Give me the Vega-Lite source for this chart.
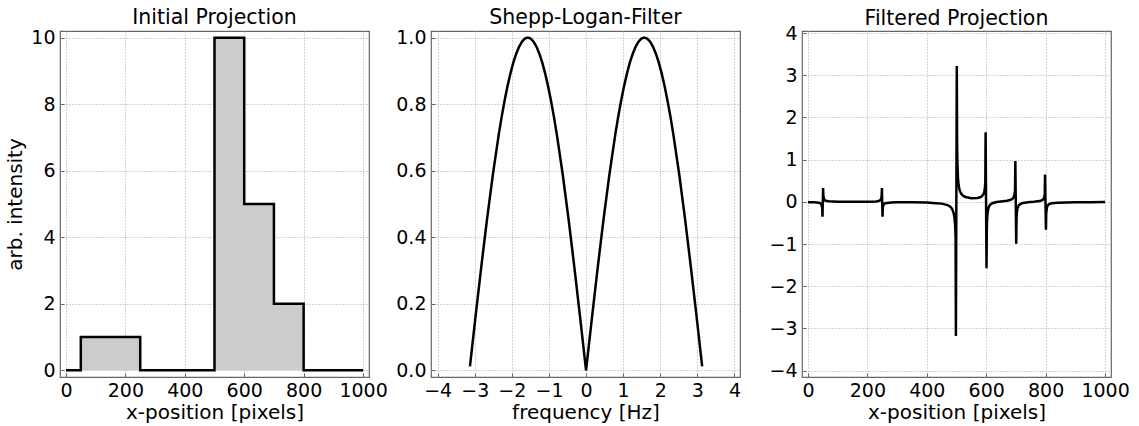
{
  "$schema": "https://vega.github.io/schema/vega-lite/v6.json",
  "padding": {"left": 5, "top": 7, "right": 5, "bottom": 5},
  "background": "white",
  "config": {
    "font": "DejaVu Sans",
    "view": {"stroke": "#666666", "strokeWidth": 1.2},
    "axis": {
      "labelFont": "DejaVu Sans", "labelFontSize": 19, "labelColor": "#000000",
      "titleFont": "DejaVu Sans", "titleFontSize": 20, "titleFontWeight": "normal", "titleColor": "#000000",
      "grid": true, "gridColor": "#a8a8a8", "gridDash": [1, 2], "gridWidth": 1,
      "ticks": true, "tickSize": -4, "tickColor": "#666666", "tickWidth": 1,
      "domain": false, "labelFlush": false, "labelOverlap": false, "labelBound": false,
      "labelPadding": 9
    },
    "axisX": {"labelPadding": 8, "titlePadding": 2},
    "axisY": {"titlePadding": 5},
    "title": {"fontSize": 20.5, "fontWeight": "normal", "font": "DejaVu Sans", "color": "#000000", "anchor": "middle"}
  },
  "datasets": {
    "proj": [
      {"x": 0, "y": 0}, {"x": 50, "y": 1}, {"x": 250, "y": 0}, {"x": 500, "y": 10},
      {"x": 600, "y": 5}, {"x": 700, "y": 2}, {"x": 800, "y": 0}, {"x": 1000, "y": 0}
    ],
    "filter": [
      {"f": -3.13, "h": 0.012}, {"f": -2.985, "h": 0.1564}, {"f": -2.827, "h": 0.309}, {"f": -2.670, "h": 0.454},
      {"f": -2.513, "h": 0.5878}, {"f": -2.356, "h": 0.7071}, {"f": -2.278, "h": 0.7604}, {"f": -2.199, "h": 0.809},
      {"f": -2.121, "h": 0.8526}, {"f": -2.042, "h": 0.891}, {"f": -1.963, "h": 0.9239},
      {"f": -1.885, "h": 0.9511}, {"f": -1.806, "h": 0.9724}, {"f": -1.728, "h": 0.9877}, {"f": -1.649, "h": 0.9969},
      {"f": -1.571, "h": 1.0}, {"f": -1.492, "h": 0.9969}, {"f": -1.414, "h": 0.9877}, {"f": -1.335, "h": 0.9724},
      {"f": -1.257, "h": 0.9511}, {"f": -1.178, "h": 0.9239}, {"f": -1.100, "h": 0.891}, {"f": -1.021, "h": 0.8526},
      {"f": -0.942, "h": 0.809}, {"f": -0.864, "h": 0.7604}, {"f": -0.785, "h": 0.7071},
      {"f": -0.628, "h": 0.5878}, {"f": -0.471, "h": 0.454}, {"f": -0.314, "h": 0.309}, {"f": -0.157, "h": 0.1564},
      {"f": 0, "h": 0},
      {"f": 0.157, "h": 0.1564}, {"f": 0.314, "h": 0.309}, {"f": 0.471, "h": 0.454}, {"f": 0.628, "h": 0.5878},
      {"f": 0.785, "h": 0.7071}, {"f": 0.864, "h": 0.7604}, {"f": 0.942, "h": 0.809}, {"f": 1.021, "h": 0.8526},
      {"f": 1.100, "h": 0.891}, {"f": 1.178, "h": 0.9239}, {"f": 1.257, "h": 0.9511}, {"f": 1.335, "h": 0.9724},
      {"f": 1.414, "h": 0.9877}, {"f": 1.492, "h": 0.9969}, {"f": 1.571, "h": 1.0}, {"f": 1.649, "h": 0.9969},
      {"f": 1.728, "h": 0.9877}, {"f": 1.806, "h": 0.9724}, {"f": 1.885, "h": 0.9511}, {"f": 1.963, "h": 0.9239},
      {"f": 2.042, "h": 0.891}, {"f": 2.121, "h": 0.8526}, {"f": 2.199, "h": 0.809}, {"f": 2.278, "h": 0.7604},
      {"f": 2.356, "h": 0.7071}, {"f": 2.513, "h": 0.5878},
      {"f": 2.670, "h": 0.454}, {"f": 2.827, "h": 0.309}, {"f": 2.985, "h": 0.1564}, {"f": 3.13, "h": 0.012}
    ],
    "filtered": [
      {"x": 0, "y": -0.006}, {"x": 10, "y": -0.007}, {"x": 20, "y": -0.009}, {"x": 30, "y": -0.014},
      {"x": 40, "y": -0.027}, {"x": 45, "y": -0.054}, {"x": 48, "y": -0.135}, {"x": 49, "y": -0.35},
      {"x": 51, "y": 0.33}, {"x": 52, "y": 0.135}, {"x": 55, "y": 0.054}, {"x": 60, "y": 0.027},
      {"x": 70, "y": 0.013}, {"x": 100, "y": 0.005}, {"x": 150, "y": 0.003}, {"x": 200, "y": 0.004},
      {"x": 230, "y": 0.011}, {"x": 240, "y": 0.025}, {"x": 245, "y": 0.051}, {"x": 248, "y": 0.132},
      {"x": 249, "y": 0.33}, {"x": 251, "y": -0.35}, {"x": 252, "y": -0.138}, {"x": 255, "y": -0.057},
      {"x": 260, "y": -0.03}, {"x": 280, "y": -0.013}, {"x": 300, "y": -0.01}, {"x": 350, "y": -0.011},
      {"x": 400, "y": -0.017}, {"x": 430, "y": -0.03}, {"x": 450, "y": -0.041}, {"x": 470, "y": -0.075},
      {"x": 480, "y": -0.119}, {"x": 485, "y": -0.164}, {"x": 490, "y": -0.251}, {"x": 493, "y": -0.367},
      {"x": 495, "y": -0.52}, {"x": 496, "y": -0.655}, {"x": 497, "y": -0.88}, {"x": 498, "y": -3.18},
      {"x": 501, "y": 3.22}, {"x": 502, "y": 1.37}, {"x": 503, "y": 0.92}, {"x": 505, "y": 0.56},
      {"x": 507, "y": 0.405}, {"x": 510, "y": 0.291}, {"x": 515, "y": 0.202}, {"x": 520, "y": 0.158},
      {"x": 530, "y": 0.116}, {"x": 550, "y": 0.088}, {"x": 570, "y": 0.092}, {"x": 580, "y": 0.11},
      {"x": 585, "y": 0.131}, {"x": 590, "y": 0.175}, {"x": 593, "y": 0.232}, {"x": 595, "y": 0.308},
      {"x": 596, "y": 0.376}, {"x": 597, "y": 0.488}, {"x": 598, "y": 1.65}, {"x": 601, "y": -1.57},
      {"x": 602, "y": -0.638}, {"x": 603, "y": -0.413}, {"x": 605, "y": -0.233}, {"x": 608, "y": -0.132},
      {"x": 612, "y": -0.077}, {"x": 620, "y": -0.032}, {"x": 635, "y": -0.003}, {"x": 650, "y": 0.011},
      {"x": 670, "y": 0.028}, {"x": 680, "y": 0.043}, {"x": 688, "y": 0.071}, {"x": 692, "y": 0.105},
      {"x": 695, "y": 0.167}, {"x": 697, "y": 0.275}, {"x": 698, "y": 0.97}, {"x": 701, "y": -0.99},
      {"x": 702, "y": -0.4}, {"x": 703, "y": -0.264}, {"x": 705, "y": -0.156}, {"x": 710, "y": -0.075},
      {"x": 720, "y": -0.033}, {"x": 740, "y": -0.01}, {"x": 760, "y": 0.002}, {"x": 780, "y": 0.019},
      {"x": 790, "y": 0.047}, {"x": 795, "y": 0.102}, {"x": 797, "y": 0.174}, {"x": 798, "y": 0.65},
      {"x": 801, "y": -0.66}, {"x": 802, "y": -0.276}, {"x": 804, "y": -0.141}, {"x": 807, "y": -0.083},
      {"x": 812, "y": -0.05}, {"x": 820, "y": -0.032}, {"x": 840, "y": -0.018}, {"x": 870, "y": -0.012},
      {"x": 900, "y": -0.009}, {"x": 950, "y": -0.006}, {"x": 1000, "y": -0.004}
    ]
  },
  "spacing": 62,
  "bounds": "flush",
  "hconcat": [
    {
      "title": {"text": "Initial Projection", "offset": 0},
      "width": 309, "height": 346,
      "data": {"name": "proj"},
      "encoding": {
        "x": {"field": "x", "type": "quantitative", "scale": {"domain": [-20, 1020], "nice": false, "zero": false},
              "axis": {"title": "x-position [pixels]", "values": [0, 200, 400, 600, 800, 1000], "format": "d"}},
        "y": {"field": "y", "type": "quantitative", "scale": {"domain": [-0.2, 10.2], "nice": false, "zero": false},
              "axis": {"title": "arb. intensity", "values": [0, 2, 4, 6, 8, 10], "format": "d"}}
      },
      "layer": [
        {"mark": {"type": "area", "interpolate": "step-after", "color": "#cccccc"}},
        {"mark": {"type": "line", "interpolate": "step-after", "color": "#000000", "strokeWidth": 2.5}}
      ]
    },
    {
      "title": {"text": "Shepp-Logan-Filter", "offset": 0},
      "width": 309, "height": 346,
      "data": {"name": "filter"},
      "mark": {"type": "line", "color": "#000000", "strokeWidth": 2.5},
      "encoding": {
        "x": {"field": "f", "type": "quantitative", "scale": {"domain": [-4.18, 4.15], "nice": false, "zero": false},
              "axis": {"title": "frequency [Hz]", "values": [-4, -3, -2, -1, 0, 1, 2, 3, 4], "format": "d"}},
        "y": {"field": "h", "type": "quantitative", "scale": {"domain": [-0.02, 1.02], "nice": false, "zero": false},
              "axis": {"title": null, "values": [0, 0.2, 0.4, 0.6, 0.8, 1.0], "format": ".1f"}}
      }
    },
    {
      "title": {"text": "Filtered Projection", "offset": -5},
      "width": 309, "height": 346,
      "data": {"name": "filtered"},
      "mark": {"type": "line", "color": "#000000", "strokeWidth": 2.5},
      "encoding": {
        "x": {"field": "x", "type": "quantitative", "scale": {"domain": [-20, 1020], "nice": false, "zero": false},
              "axis": {"title": "x-position [pixels]", "values": [0, 200, 400, 600, 800, 1000], "format": "d"}},
        "y": {"field": "y", "type": "quantitative", "scale": {"domain": [-4.15, 4.05], "nice": false, "zero": false},
              "axis": {"title": null, "values": [-4, -3, -2, -1, 0, 1, 2, 3, 4], "format": "d"}}
      }
    }
  ]
}
